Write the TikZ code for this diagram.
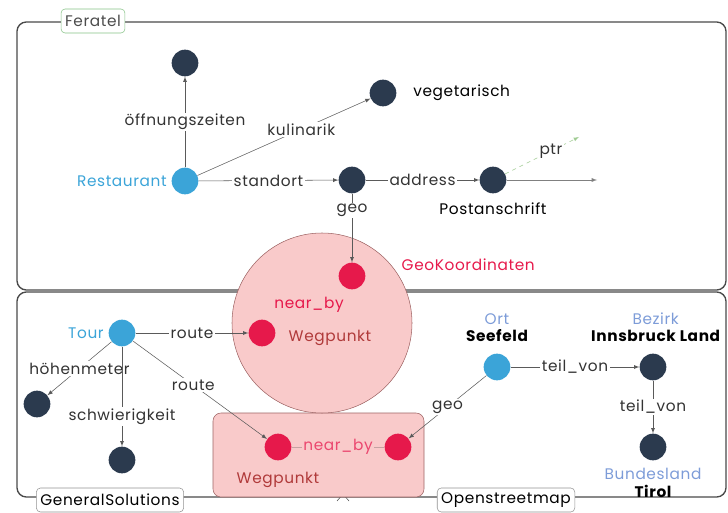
\documentclass[tikz,border=0pt]{standalone}
\usepackage{fontspec}
\setmainfont{Poppins}[LetterSpace = 4]
\usetikzlibrary{positioning}

\definecolor{nodenavy}{HTML}{2B3A4E}
\definecolor{nodesky}{HTML}{3BA4D8}
\definecolor{noderose}{HTML}{E6194B}
\definecolor{areapink}{HTML}{F9CACA}
\definecolor{areaedge}{HTML}{9E6464}
\definecolor{areatext}{HTML}{B03A3A}
\definecolor{typeblue}{HTML}{7D9CD8}
\definecolor{linkgray}{HTML}{5A5A5A}
\definecolor{framegray}{HTML}{4A4A4A}
\definecolor{tabgreen}{HTML}{86C386}
\definecolor{ptrgreen}{HTML}{9FCB92}

\begin{document}
\begin{tikzpicture}[> = latex, x = 0.75pt, y = -0.75pt,
	every node/.style = {font = \fontsize{11.5}{13}\selectfont},
	dot/.style = {circle, minimum size = 20pt, inner sep = 0pt},
	thing/.style = {dot, fill = nodenavy},
	subject/.style = {dot, fill = nodesky},
	waypoint/.style = {dot, fill = noderose},
	rel/.style = {fill = white, inner sep = 1pt, text = black!80},
	link/.style = {->, draw = linkgray, thin},
	tab/.style = {draw = framegray!60, rounded corners = 3pt, fill = white, inner xsep = 3pt, minimum height = 18pt},
	typename/.style = {text = typeblue},
	itemname/.style = {font = \fontsize{11.5}{13}\selectfont\bfseries}]

	% Page

	\useasboundingbox (0, 0) rectangle (728, 513);

	% Frames of the two sources

	\draw [framegray, line width = 1pt, rounded corners = 7pt] (17, 22) rectangle (726, 290);
	\draw [framegray, line width = 1pt, rounded corners = 7pt] (17, 292) rectangle (726, 497);
	\draw [framegray, thin] (337, 501) -- (343, 494) -- (349, 501);

	% Shared areas

	\draw [areaedge, fill = areapink, rounded corners = 6pt] (213, 413) rectangle (424, 497);
	\draw [areaedge, fill = areapink] (322, 323) circle [radius = 90];

	% Feratel

	\node [subject] (restaurant) at (185, 181) {};
	\node [thing] (hours) at (185, 63) {};
	\node [thing] (veggie) at (383, 93) {};
	\node [thing] (geo) at (352, 180) {};
	\node [thing] (address) at (493, 180) {};
	\node [waypoint] (coords) at (352, 276) {};
	\coordinate (ptrend) at (579, 137);
	\coordinate (addrend) at (597, 180);

	\node [left = 0pt of restaurant, text = nodesky] (restaurantname) {Restaurant};
	\node [right = 9pt of veggie] (veggiename) {vegetarisch};
	\node [below = 3pt of address] (addressname) {Postanschrift};
	\node [anchor = west, text = noderose] (coordsname) at (397, 265) {GeoKoordinaten};

	\draw [link] (restaurant) -- node [rel] (hourslabel) {öffnungszeiten} (hours);
	\draw [link] (restaurant) -- node [rel, pos = 0.6] (veggielabel) {kulinarik} (veggie);
	\draw [link] (restaurant) -- node [rel] (geolabel) {standort} (geo);
	\draw [link] (geo) -- node [rel] (addresslabel) {address} (address);
	\draw [link] (geo) -- node [rel, pos = 0.25] (coordslabel) {geo} (coords);
	\draw [link, draw = ptrgreen, dashed] (address) -- node [rel, pos = 0.62] (ptrlabel) {ptr} (ptrend);
	\draw [link, draw = gray] (address) -- (addrend);

	% GeneralSolutions

	\node [subject] (tour) at (122, 333) {};
	\node [thing] (height) at (37, 404) {};
	\node [thing] (level) at (122, 460) {};
	\node [waypoint] (waypoint) at (262, 333) {};
	\node [waypoint] (waypointA) at (278, 447) {};
	\node [waypoint] (waypointB) at (398, 447) {};

	\node [left = 0pt of tour, text = nodesky] (tourname) {Tour};
	\node [anchor = west, text = areatext] (waypointname) at (284, 338) {Wegpunkt};
	\node [text = noderose] (nearbyname) at (309, 305) {near\_by};
	\node [below = 5pt of waypointA, text = areatext] (waypointAname) {Wegpunkt};

	\draw [link] (tour) -- node [rel] (routelabel) {route} (waypoint);
	\draw [link] (tour) -- node [rel] (heightlabel) {höhenmeter} (height);
	\draw [link] (tour) -- node [rel, pos = 0.7] (levellabel) {schwierigkeit} (level);
	\draw [link] (tour) -- node [rel, pos = 0.45] (routeAlabel) {route} (waypointA);
	\draw [draw = areaedge!60, thin] (waypointA) -- node [fill = areapink, inner sep = 1pt, text = noderose!80] (nearbylabel) {near\_by} (waypointB);

	% Openstreetmap

	\node [subject] (seefeld) at (497, 367) {};
	\node [thing] (innsbruck) at (653, 367) {};
	\node [thing] (tirol) at (653, 447) {};

	\node [above = 5pt of seefeld, itemname] (seefeldname) {Seefeld};
	\node [above = -3pt of seefeldname, typename] (ortname) {Ort};
	\node [above = 5pt of innsbruck, itemname, xshift = 2pt] (innsbruckname) {Innsbruck Land};
	\node [above = -3pt of innsbruckname, typename] (bezirkname) {Bezirk};
	\node [below = 2pt of tirol, typename] (bundeslandname) {Bundesland};
	\node [below = -3pt of bundeslandname, itemname] (tirolname) {Tirol};

	\draw [link] (seefeld) -- node [rel] (seefeldgeo) {geo} (waypointB);
	\draw [link] (seefeld) -- node [rel] (seefeldpart) {teil\_von} (innsbruck);
	\draw [link] (innsbruck) -- node [rel] (innsbruckpart) {teil\_von} (tirol);

	% Source tabs

	\node [tab, draw = tabgreen, text = black!70] (feratel) at (93, 21) {Feratel};
	\node [tab] (generalsolutions) at (110, 500) {GeneralSolutions};
	\node [tab] (openstreetmap) at (506, 500) {Openstreetmap};

\end{tikzpicture}
\end{document}
